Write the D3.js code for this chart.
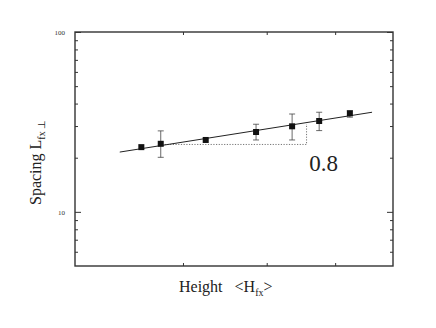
<!DOCTYPE html>
<html>
<head>
<meta charset="utf-8">
<script src="https://cdn.jsdelivr.net/npm/d3@7"></script>
<style>
  body { margin: 0; background: #fff; }
  svg text { font-family: "Liberation Serif", "Times New Roman", serif; fill: #222; white-space: pre; }
</style>
</head>
<body>
<div id="chart"></div>
<script>
// measured points (height, spacing) with error bar limits
var heights = [3.58, 3.77, 4.25, 4.86, 5.35, 5.75, 6.24];
var spacing = [22.9, 23.9, 25.1, 27.8, 29.9, 32.0, 35.3];
var errLow  = [22.9, 20.1, 25.1, 25.1, 25.1, 28.3, 33.6];
var errHigh = [22.9, 28.2, 25.1, 30.7, 35.0, 35.8, 36.5];

// fitted line end points
var fitX = [3.38, 6.62];
var fitY = [21.5, 35.8];

// slope triangle corners
var triX = [3.81, 5.56, 5.56];
var triY = [23.7, 23.7, 30.8];

var xTicks = [4, 5, 6];
var yMajor = [10, 100];
var yMinor = [6, 7, 8, 9, 20, 30, 40, 50, 60, 70, 80, 90];

var margin = {top: 32, right: 43, bottom: 62, left: 75};
var width = 436, height = 328;
var w = width - margin.left - margin.right;
var h = height - margin.top - margin.bottom;

var x = d3.scaleLog().domain([3, 7]).range([0, w]);
var y = d3.scaleLog().domain([5, 100]).range([h, 0]);

var svg = d3.select("#chart")
    .append("svg")
    .attr("width", width)
    .attr("height", height);

var g = svg.append("g")
    .attr("transform", "translate(" + margin.left + "," + margin.top + ")");

// frame
g.append("rect")
    .attr("width", w)
    .attr("height", h)
    .attr("fill", "none")
    .attr("stroke", "#333")
    .attr("stroke-width", 1.4);

// inward ticks, both sides
g.append("g").call(d3.axisBottom(x).tickValues(xTicks).tickSize(-3).tickFormat(""))
    .attr("transform", "translate(0," + h + ")");
g.append("g").call(d3.axisTop(x).tickValues(xTicks).tickSize(-3).tickFormat(""));

g.append("g").call(d3.axisLeft(y).tickValues(yMajor).tickSize(-6).tickPadding(10)
    .tickFormat(d3.format("d")));
g.append("g").call(d3.axisLeft(y).tickValues(yMinor).tickSize(-3).tickFormat(""));
g.append("g").call(d3.axisRight(y).tickValues(yMajor).tickSize(-6).tickFormat(""))
    .attr("transform", "translate(" + w + ",0)");
g.append("g").call(d3.axisRight(y).tickValues(yMinor).tickSize(-3).tickFormat(""))
    .attr("transform", "translate(" + w + ",0)");

g.selectAll(".domain").remove();
g.selectAll(".tick line").attr("stroke", "#333");
g.selectAll(".tick text").attr("font-size", "7px").style("fill", "#333");

// slope triangle (dotted)
g.append("path")
    .attr("d", d3.line().x(function(d, i) { return x(triX[i]); })
        .y(function(d, i) { return y(triY[i]); })(triX))
    .attr("fill", "none")
    .attr("stroke", "#666")
    .attr("stroke-width", 0.9)
    .attr("stroke-dasharray", "1.2,1.5");

g.append("text")
    .attr("x", x(5.6))
    .attr("y", y(23.7) + 27)
    .attr("font-size", "23px")
    .style("font-family", "'Liberation Serif', serif")
    .text("0.8");

// fit line
g.append("line")
    .attr("x1", x(fitX[0])).attr("y1", y(fitY[0]))
    .attr("x2", x(fitX[1])).attr("y2", y(fitY[1]))
    .attr("stroke", "#222")
    .attr("stroke-width", 1);

// error bars
var eb = g.selectAll(".err")
    .data(heights)
    .enter()
    .filter(function(d, i) { return errHigh[i] > errLow[i]; })
    .append("g")
    .attr("class", "err")
    .attr("stroke", "#444")
    .attr("stroke-width", 0.8);

eb.append("line")
    .attr("x1", function(d) { return x(d); })
    .attr("x2", function(d) { return x(d); })
    .attr("y1", function(d) { return y(errLow[heights.indexOf(d)]); })
    .attr("y2", function(d) { return y(errHigh[heights.indexOf(d)]); });
eb.append("line")
    .attr("x1", function(d) { return x(d) - 3; })
    .attr("x2", function(d) { return x(d) + 3; })
    .attr("y1", function(d) { return y(errLow[heights.indexOf(d)]); })
    .attr("y2", function(d) { return y(errLow[heights.indexOf(d)]); });
eb.append("line")
    .attr("x1", function(d) { return x(d) - 3; })
    .attr("x2", function(d) { return x(d) + 3; })
    .attr("y1", function(d) { return y(errHigh[heights.indexOf(d)]); })
    .attr("y2", function(d) { return y(errHigh[heights.indexOf(d)]); });

// markers
g.selectAll(".pt")
    .data(heights)
    .enter()
    .append("rect")
    .attr("class", "pt")
    .attr("x", function(d) { return x(d) - 3; })
    .attr("y", function(d, i) { return y(spacing[i]) - 3; })
    .attr("width", 6)
    .attr("height", 6)
    .attr("fill", "#111");

// axis titles
var xt = svg.append("text")
    .attr("x", 179)
    .attr("y", 292)
    .attr("font-size", "16px");
xt.append("tspan").text("Height   <H");
xt.append("tspan").attr("font-size", "10px").attr("dy", 4).text("fx");
xt.append("tspan").attr("dy", -4).text(">");

var yt = svg.append("text")
    .attr("transform", "translate(41,205) rotate(-90)")
    .attr("font-size", "16px");
yt.append("tspan").text("Spacing L");
yt.append("tspan").attr("font-size", "10px").attr("dy", 4).text("fx ⊥");
</script>
</body>
</html>
